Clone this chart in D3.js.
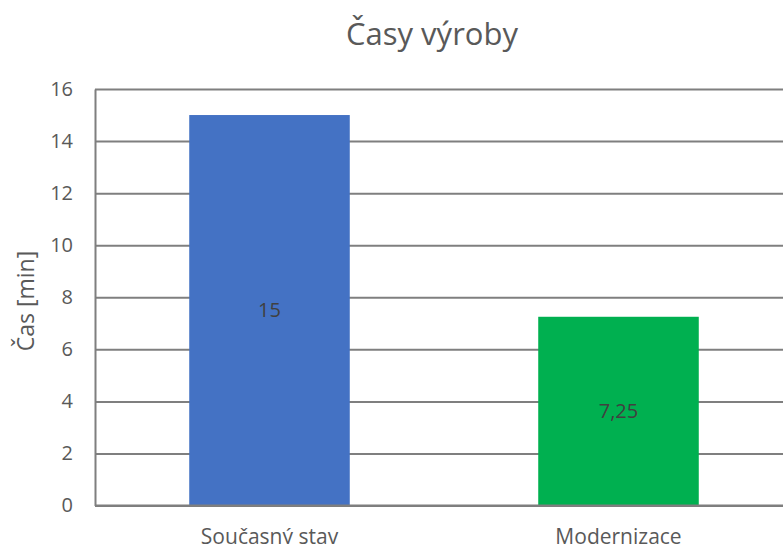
<!DOCTYPE html>
<html>
<head>
<meta charset="utf-8">
<script src="https://cdn.jsdelivr.net/npm/d3@7"></script>
<style>
  html, body { margin: 0; padding: 0; background: #fff; }
  svg text { font-family: "Open Sans", Lato, sans-serif; }
</style>
</head>
<body>
<svg id="chart" width="783" height="544"></svg>
<script>
// Production times before and after modernisation
const categories = ["Současný stav", "Modernizace"];
const values = [15, 7.25];
const valueLabels = ["15", "7,25"];
const barColors = ["#4472C4", "#00B050"];
const yTicks = [0, 2, 4, 6, 8, 10, 12, 14, 16];

const svg = d3.select("#chart");
const plotLeft = 95, plotRight = 793, plotTop = 89, plotBottom = 505.5;
const fontFamily = "'Open Sans', Lato, sans-serif";

const x = d3.scaleBand().domain(categories).range([plotLeft, plotRight])
  .paddingInner(0.54).paddingOuter(0.27);
const y = d3.scaleLinear().domain([0, 16]).range([plotBottom, plotTop]);

// horizontal gridlines
const grid = svg.append("g")
  .attr("transform", `translate(${plotLeft},0)`)
  .call(d3.axisLeft(y).tickValues(yTicks).tickSize(-(plotRight - plotLeft)).tickFormat(""));
grid.select(".domain").remove();
grid.selectAll(".tick line").attr("stroke", "#7f7f7f").attr("stroke-width", 2);

// bars
svg.append("g").selectAll("rect").data(values).join("rect")
  .attr("x", (d, i) => x(categories[i]))
  .attr("width", x.bandwidth())
  .attr("y", d => y(d))
  .attr("height", d => y(0) - y(d))
  .attr("fill", (d, i) => barColors[i]);

// y axis: line and tick labels
const yAxis = svg.append("g")
  .attr("transform", `translate(${plotLeft},0)`)
  .call(d3.axisLeft(y).tickValues(yTicks).tickSize(0).tickPadding(22));
yAxis.select(".domain").attr("stroke", "#7f7f7f").attr("stroke-width", 2);
yAxis.selectAll("text").attr("fill", "#595959").style("font-size", "20px")
  .style("font-family", fontFamily);

// x axis baseline
svg.append("line")
  .attr("x1", plotLeft).attr("x2", plotRight)
  .attr("y1", y(0)).attr("y2", y(0))
  .attr("stroke", "#7f7f7f").attr("stroke-width", 2);

// category labels
const xAxis = svg.append("g")
  .attr("transform", `translate(0,${plotBottom})`)
  .call(d3.axisBottom(x).tickSize(0).tickPadding(24));
xAxis.select(".domain").remove();
xAxis.selectAll("text").attr("fill", "#595959").style("font-size", "21px")
  .style("font-family", fontFamily);

// value labels centred in bars
svg.append("g").selectAll("text").data(values).join("text")
  .attr("x", (d, i) => x(categories[i]) + x.bandwidth() / 2)
  .attr("y", d => y(d / 2))
  .attr("dy", "0.35em")
  .attr("text-anchor", "middle")
  .attr("fill", "#404040")
  .style("font-size", "20px")
  .text((d, i) => valueLabels[i]);

// title
svg.append("text")
  .attr("x", 432).attr("y", 45)
  .attr("text-anchor", "middle")
  .attr("fill", "#595959")
  .style("font-size", "31px")
  .text("Časy výroby");

// y axis title
svg.append("text")
  .attr("transform", "translate(34,301) rotate(-90)")
  .attr("text-anchor", "middle")
  .attr("fill", "#595959")
  .style("font-size", "23px")
  .text("Čas [min]");
</script>
</body>
</html>
